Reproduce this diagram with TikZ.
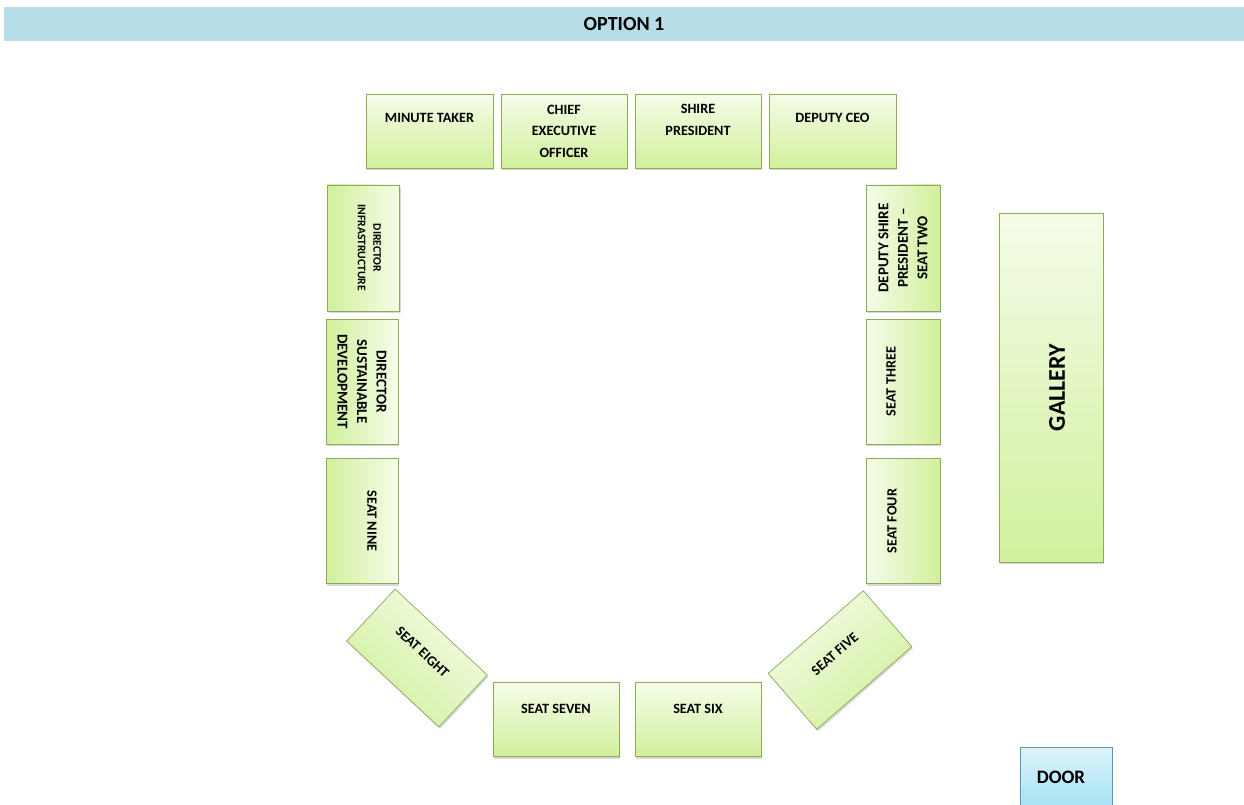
\documentclass[tikz,border=0pt]{standalone}
\usepackage{fontspec}
\setmainfont{Carlito}
\usetikzlibrary{shadows,calc}

\definecolor{hdrblue}{RGB}{183,221,232}
\definecolor{seattop}{RGB}{245,252,233}
\definecolor{seatbot}{RGB}{209,240,156}
\definecolor{seatedge}{RGB}{140,170,88}
\definecolor{doortop}{RGB}{222,244,251}
\definecolor{doorbot}{RGB}{160,223,243}
\definecolor{dooredge}{RGB}{88,150,180}

\tikzset{
  box/.style={draw=seatedge, line width=0.7pt, inner sep=0pt,
    top color=seattop, bottom color=seatbot,
    drop shadow={shadow xshift=1.2pt, shadow yshift=-2pt, opacity=0.3}},
  hbox/.style={box, minimum width=126pt, minimum height=74pt},
  vbox/.style={box, minimum width=125pt, minimum height=72pt},
  lbl/.style={font=\bfseries\fontsize{14.2}{21.5}\selectfont, align=center, inner sep=0pt},
  small/.style={font=\bfseries\fontsize{11.6}{15.5}\selectfont, align=center, inner sep=0pt},
  mid/.style={font=\bfseries\fontsize{15}{19.5}\selectfont, align=center, inner sep=0pt},
}

\begin{document}
\begin{tikzpicture}[x=1pt, y=-1pt]
  \useasboundingbox (0,0) rectangle (1244,805);
  \fill[white] (0,0) rectangle (1244,805);

  % title bar
  \fill[hdrblue] (4,7) rectangle (1244,41);
  \node[font=\bfseries\fontsize{20}{24}\selectfont] (title) at (624,24) {OPTION 1};

  % top row
  \node[hbox, minimum width=127pt] (mt)   at (429.5,131) {};
  \node[hbox] (ceo)  at (564,131) {};
  \node[hbox] (sp)   at (698,131) {};
  \node[hbox, minimum width=127pt] (dceo) at (832.5,131) {};
  \node[lbl] at ($(mt.center)!13pt!(mt.north)$) {MINUTE TAKER};
  \node[lbl] at (ceo.center) {CHIEF\\EXECUTIVE\\OFFICER};
  \node[lbl] at ($(sp.center)!11pt!(sp.north)$) {SHIRE\\PRESIDENT};
  \node[lbl] at ($(dceo.center)!13pt!(dceo.north)$) {DEPUTY CEO};

  % left side (pale edge faces the top of the lettering)
  \node[vbox, rotate=-90, shading angle=-90, minimum width=126pt] (di)  at (363.5,248) {};
  \node[vbox, rotate=-90, shading angle=-90] (dsd) at (362,381.5) {};
  \node[vbox, rotate=-90, shading angle=-90] (s9)  at (362,521) {};
  \node[small, rotate=-90] at ($(di.center)!6pt!(di.north)$) {DIRECTOR\\INFRASTRUCTURE};
  \node[mid, rotate=-90] at (dsd.center) {DIRECTOR\\SUSTAINABLE\\DEVELOPMENT};
  \node[lbl, rotate=-90] at ($(s9.center)!10pt!(s9.north)$) {SEAT NINE};

  % right side
  \node[vbox, rotate=90, shading angle=90, minimum width=126pt, minimum height=74pt] (dsp) at (903,248) {};
  \node[vbox, rotate=90, shading angle=90, minimum height=74pt] (s3) at (903,381.5) {};
  \node[vbox, rotate=90, shading angle=90, minimum height=74pt] (s4) at (903,521) {};
  \node[mid, rotate=90] at (dsp.center) {DEPUTY SHIRE\\PRESIDENT --\\SEAT TWO};
  \node[lbl, rotate=90] at ($(s3.center)!12pt!(s3.north)$) {SEAT THREE};
  \node[lbl, rotate=90] at ($(s4.center)!11pt!(s4.north)$) {SEAT FOUR};

  % bottom
  \node[hbox, rotate=-43, shading angle=-43, minimum height=71pt] (s8) at (417,658) {};
  \node[hbox] (s7) at (556,719.5) {};
  \node[hbox] (s6) at (698,719.5) {};
  \node[hbox, rotate=41, shading angle=41] (s5) at (840,660) {};
  \node[lbl, rotate=-43] at ($(s8.center)!8pt!(s8.north)$) {SEAT EIGHT};
  \node[lbl] at ($(s7.center)!11pt!(s7.north)$) {SEAT SEVEN};
  \node[lbl] at ($(s6.center)!11pt!(s6.north)$) {SEAT SIX};
  \node[lbl, rotate=41] at ($(s5.center)!8pt!(s5.north)$) {SEAT FIVE};

  % gallery and door
  \node[box, rotate=90, minimum width=349pt, minimum height=104pt] (gal) at (1051,387.5) {};
  \node[font=\bfseries\fontsize{24}{28}\selectfont, rotate=90] at ($(gal.center)!-6pt!(gal.north)$) {GALLERY};
  \node[box, draw=dooredge, top color=doortop, bottom color=doorbot,
        minimum width=92pt, minimum height=66pt] (door) at (1066,780) {};
  \node[font=\bfseries\fontsize{19}{22}\selectfont] at (1061,777) {DOOR};
\end{tikzpicture}
\end{document}
